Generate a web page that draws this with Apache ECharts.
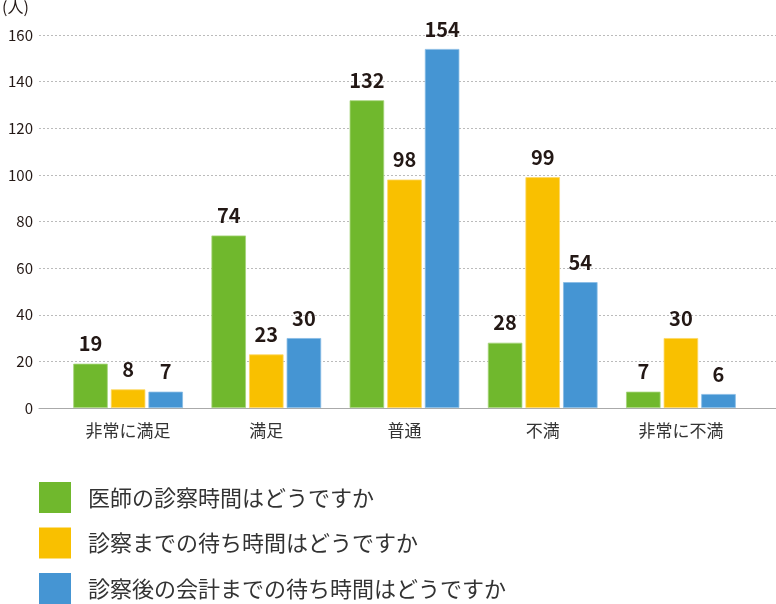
<!DOCTYPE html>
<html><head><meta charset="utf-8">
<script src="https://cdn.jsdelivr.net/npm/echarts@6/dist/echarts.min.js"></script>
<style>html,body{margin:0;padding:0;background:#fff}#c{width:776px;height:604px}</style>
</head><body><div id="c"></div>
<script>
const categories = ['非常に満足', '満足', '普通', '不満', '非常に不満'];
const seriesNames = ['医師の診察時間はどうですか', '診察までの待ち時間はどうですか', '診察後の会計までの待ち時間はどうですか'];
const doctorTime = [19, 74, 132, 28, 7];
const waitBefore = [8, 23, 98, 99, 30];
const waitAfter = [7, 30, 154, 54, 6];
const yMin = 0, yMax = 160, yInterval = 20;
const unitLabel = '(人)';
const colors = ['#70b82d', '#f9c000', '#4595d3'];
const borders = ['#a6d47a', '#fcd866', '#86bbe5'];

const font = '"Noto Sans CJK JP", "Noto Sans", sans-serif';
const chart = echarts.init(document.getElementById('c'), null, {renderer: 'canvas'});
const values = [doctorTime, waitBefore, waitAfter];
const grids = [
  {left: 39, right: 0, top: 35, bottom: 196},
  {left: 59, right: 26, top: 35, bottom: 196}
];
chart.setOption({
  animation: false,
  backgroundColor: '#fff',
  textStyle: {fontFamily: font},
  grid: grids,
  title: {text: unitLabel, left: 2, top: -1, padding: 0, textStyle: {fontFamily: font, fontSize: 16, fontWeight: 'normal', color: '#231815'}},
  legend: {
    orient: 'vertical', left: 39, top: 482, height: 140, padding: 0,
    itemWidth: 32, itemHeight: 31, itemGap: 14.5,
    icon: 'rect', selectedMode: false,
    itemStyle: {borderWidth: 0},
    data: seriesNames,
    textStyle: {fontFamily: font, fontSize: 22, color: '#333', padding: [0, 0, 0, 12]}
  },
  xAxis: [
    {gridIndex: 0, type: 'value', min: 0, max: 1, axisLabel: {show: false}, axisTick: {show: false}, splitLine: {show: false},
     axisLine: {show: true, lineStyle: {color: '#aaa', width: 1}}},
    {gridIndex: 1, type: 'category', data: categories, axisLine: {show: false}, axisTick: {show: false},
     axisLabel: {fontFamily: font, fontSize: 17, color: '#333', margin: 14}}
  ],
  yAxis: [
    {gridIndex: 0, type: 'value', min: yMin, max: yMax, interval: yInterval,
     axisLine: {show: false}, axisTick: {show: false},
     axisLabel: {fontFamily: font, fontSize: 15, color: '#231815', margin: 6},
     splitLine: {show: true, lineStyle: {color: '#bbb', type: [2, 2], width: 1}}},
    {gridIndex: 1, type: 'value', min: yMin, max: yMax, interval: yInterval, show: false, splitLine: {show: false}}
  ],
  series: seriesNames.map((n, i) => ({
    name: n, type: 'bar', xAxisIndex: 1, yAxisIndex: 1, data: values[i],
    barWidth: 34.5, barGap: '9%',
    itemStyle: {color: colors[i], borderColor: borders[i], borderWidth: 0.8},
    label: {show: true, position: 'top', distance: 10, fontFamily: font, fontSize: 20, fontWeight: 'bold', color: '#231815'}
  }))
});
</script></body></html>
